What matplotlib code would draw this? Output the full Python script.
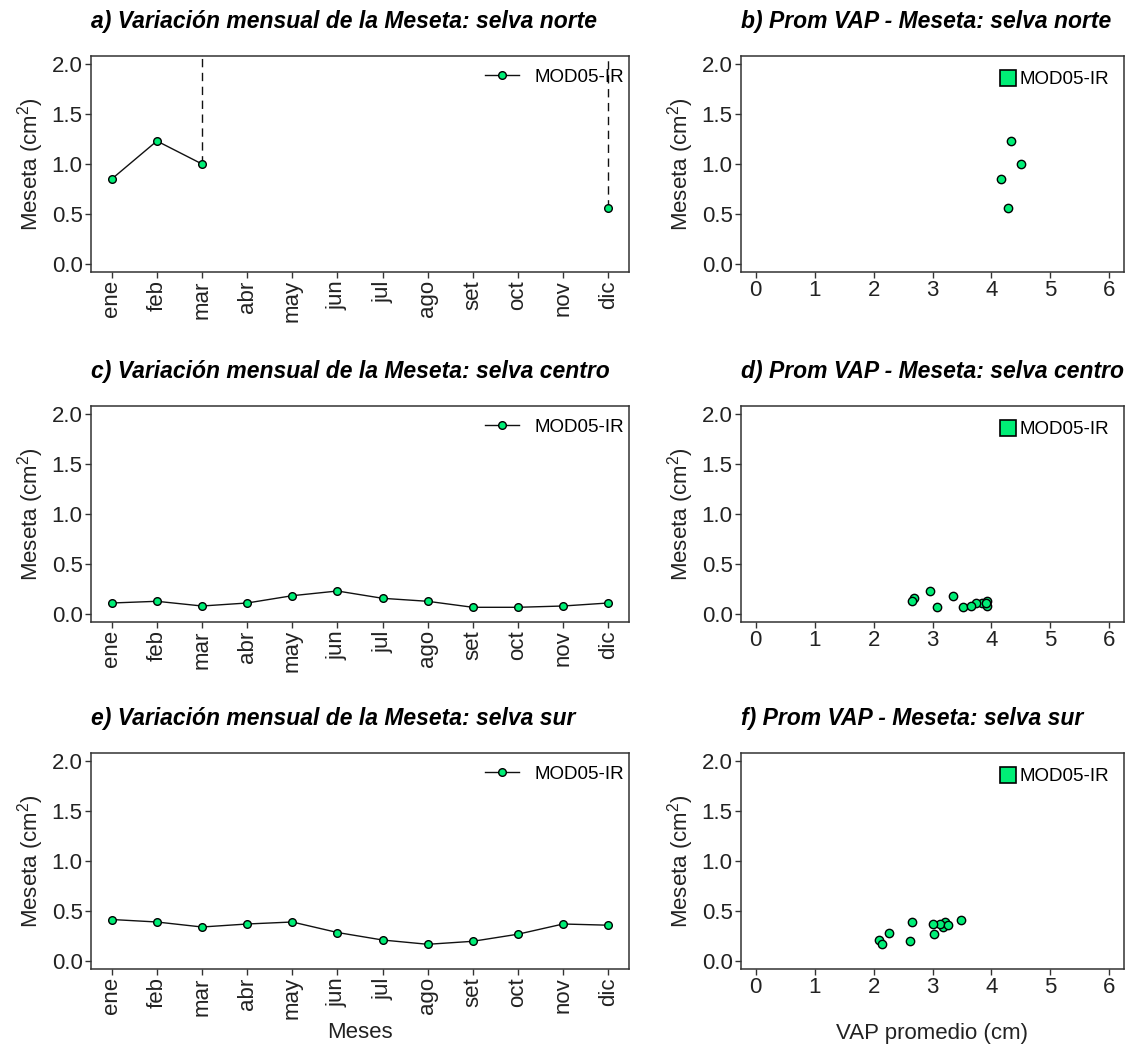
import numpy as np
import matplotlib.pyplot as plt
from matplotlib.lines import Line2D

plt.rcParams['font.family'] = ['Liberation Sans', 'DejaVu Sans']
plt.rcParams['mathtext.fontset'] = 'custom'
plt.rcParams['mathtext.rm'] = 'Liberation Sans'
plt.rcParams['mathtext.it'] = 'Liberation Sans:italic'

meses = ['ene', 'feb', 'mar', 'abr', 'may', 'jun', 'jul', 'ago', 'set', 'oct', 'nov', 'dic']

# meseta mensual (cm2) por region
norte = [0.85, 1.23, 1.00, np.nan, np.nan, np.nan, np.nan, np.nan, np.nan, np.nan, np.nan, 0.56]
centro = [0.11, 0.127, 0.08, 0.11, 0.183, 0.23, 0.157, 0.127, 0.067, 0.067, 0.08, 0.11]
sur = [0.415, 0.39, 0.34, 0.37, 0.39, 0.285, 0.21, 0.167, 0.197, 0.268, 0.37, 0.358]

# VAP promedio (cm) por mes
vap_norte = [4.16, 4.33, 4.50, np.nan, np.nan, np.nan, np.nan, np.nan, np.nan, np.nan, np.nan, 4.28]
vap_centro = [3.84, 3.92, 3.92, 3.74, 3.35, 2.96, 2.69, 2.66, 3.08, 3.52, 3.65, 3.90]
vap_sur = [3.48, 3.22, 3.18, 3.13, 2.66, 2.27, 2.09, 2.14, 2.61, 3.03, 3.01, 3.27]

# meses donde la serie sale del grafico (linea discontinua hacia arriba)
salto_norte = [2, 11]

regiones = ['norte', 'centro', 'sur']
letras_l = ['a', 'c', 'e']
letras_s = ['b', 'd', 'f']

verde = '#00EE76'
W, H = 1135, 1045
fig = plt.figure(figsize=(W / 100, H / 100), dpi=100)

tops = [56, 406, 753]
alto = 216
ylo, yhi = -0.08, 2.08
fs = 16


def caja(ax):
  for s in ax.spines.values():
    s.set_color('#333333')
    s.set_linewidth(1.1)
  ax.tick_params(direction='out', length=4, width=1, color='#333333', labelsize=fs, labelcolor='#222222', pad=2)
  ax.set_ylim(ylo, yhi)
  ax.set_yticks([0, 0.5, 1.0, 1.5, 2.0])
  ax.set_yticklabels(['0.0', '0.5', '1.0', '1.5', '2.0'])
  ax.set_ylabel('Meseta (cm$^{2}$)', fontsize=fs, color='#222222', labelpad=4)


series = [norte, centro, sur]
vaps = [vap_norte, vap_centro, vap_sur]
x = np.arange(1, 13)

for i in range(3):
  top = tops[i]
  # panel mensual
  ax = fig.add_axes([91 / W, 1 - (top + alto) / H, 538 / W, alto / H])
  caja(ax)
  y = np.array(series[i])
  ax.plot(x, y, color='#111111', lw=1, marker='o', ms=5.5, mfc=verde, mec='black', mew=1, zorder=3)
  if i == 0:
    for k in salto_norte:
      ax.plot([x[k], x[k]], [y[k], yhi], color='#111111', lw=1, ls=(0, (6, 4)), zorder=2)
  ax.set_xlim(0.54, 12.46)
  ax.set_xticks(x)
  ax.set_xticklabels(meses, rotation=90)
  ax.set_title(letras_l[i] + ') Variación mensual de la Meseta: selva ' + regiones[i],
               fontsize=16.5, fontweight='bold', fontstyle='italic', loc='left', pad=20, x=0.0)
  h = Line2D([], [], color='#111111', lw=1, marker='o', ms=5.5, mfc=verde, mec='black')
  ax.legend([h], ['MOD05-IR'], loc='upper right', frameon=False, fontsize=13.5,
            bbox_to_anchor=(1.018, 1.01), handlelength=1.8, handletextpad=0.8, borderaxespad=0.4)
  if i == 2:
    ax.set_xlabel('Meses', fontsize=fs, color='#222222', labelpad=2)

  # panel dispersion
  ax2 = fig.add_axes([741 / W, 1 - (top + alto) / H, 383 / W, alto / H])
  caja(ax2)
  ax2.scatter(vaps[i], series[i], s=36, c=verde, edgecolors='black', linewidths=1, zorder=3)
  ax2.set_xlim(-0.25, 6.25)
  ax2.set_xticks(range(7))
  ax2.set_title(letras_s[i] + ') Prom VAP - Meseta: selva ' + regiones[i],
                fontsize=16.5, fontweight='bold', fontstyle='italic', loc='left', pad=20, x=0.0)
  hs = Line2D([], [], ls='none', marker='s', ms=11, mfc=verde, mec='black', mew=1.2)
  ax2.legend([hs], ['MOD05-IR'], loc='upper right', frameon=False, fontsize=13.5,
             bbox_to_anchor=(1.0, 1.0), handlelength=0.8, handletextpad=0.2, borderaxespad=0.4)
  if i == 2:
    ax2.set_xlabel('VAP promedio (cm)', fontsize=fs, color='#222222', labelpad=18)

plt.savefig('out.png', dpi=100)
